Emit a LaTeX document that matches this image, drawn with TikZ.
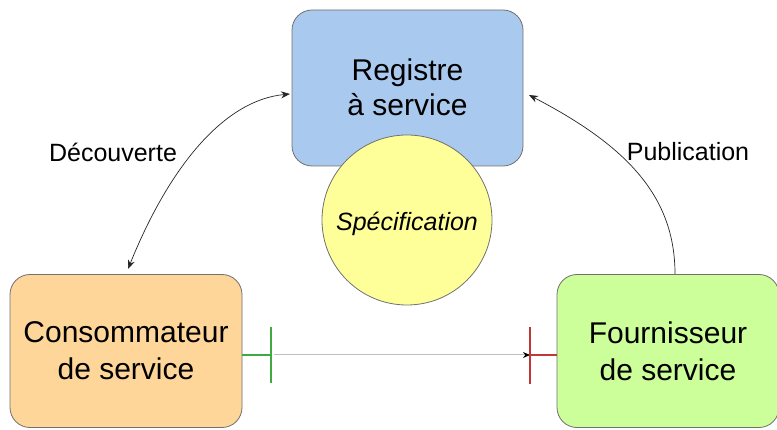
\documentclass[tikz,border=0pt]{standalone}
\usepackage{fontspec}
\setmainfont{Liberation Sans}
\usetikzlibrary{arrows.meta}
\definecolor{boxblue}{HTML}{A9CAEE}
\definecolor{boxorange}{HTML}{FED69A}
\definecolor{boxgreen}{HTML}{CCFE9A}
\definecolor{specyellow}{HTML}{FFFF99}
\definecolor{edgegray}{HTML}{707070}
\definecolor{tickgreen}{HTML}{3FAA3F}
\definecolor{tickred}{HTML}{C03838}
\begin{document}
\begin{tikzpicture}[x=1pt,y=-1pt,
  box/.style={draw=edgegray,line width=0.8pt,rounded corners=20pt,align=center,
    font=\fontsize{30}{37}\selectfont,inner sep=0pt},
  lbl/.style={font=\fontsize{25}{29}\selectfont,inner sep=0pt},
  conn/.style={black!85,line width=0.7pt,-{Stealth[length=9pt,width=7pt]}},
  tick/.style={line width=1.2pt}]
\useasboundingbox (0,0) rectangle (777,430);
\node[box,fill=boxblue,minimum width=231pt,minimum height=156pt] (reg) at (407.5,88) {};
\node[font=\fontsize{30}{35}\selectfont,align=center] (regt) at (407.5,87) {Registre\\à service};
\node[draw=edgegray,line width=0.8pt,fill=specyellow,circle,minimum size=170pt,inner sep=0pt] (spec) at (407,220) {};
\node[font=\fontsize{25}{29}\selectfont\itshape] (spect) at (407,224) {Spécification};
\node[box,fill=boxorange,minimum width=232pt,minimum height=153pt] (cons) at (126,351) {Consommateur\\de service};
\node[box,fill=boxgreen,minimum width=222pt,minimum height=153pt] (four) at (668,351) {Fournisseur\\de service};
\node[lbl] (dec) at (113,152) {Découverte};
\node[lbl] (pub) at (688,152) {Publication};
\coordinate (dtop) at (290,94);
\coordinate (dbot) at (128,269);
\draw[conn,{Stealth[length=9pt,width=7pt]}-{Stealth[length=9pt,width=7pt]}] (dbot) .. controls (170,165) and (225,100) .. (dtop);
\coordinate (pstart) at (675,274);
\coordinate (pend) at (529,95);
\draw[conn] (pstart) .. controls (675,195) and (625,145) .. (pend);
% bottom connector
\coordinate (gstart) at (cons.east |- 0,355);
\coordinate (gtick) at (271,355);
\coordinate (rtick) at (530,355);
\coordinate (rend) at (four.west |- 0,355);
\coordinate (gtop) at (271,327);
\coordinate (gbot) at (271,383);
\coordinate (rtop) at (530,327);
\coordinate (rbot) at (530,384);
\draw[tickgreen,tick] (gstart) -- (gtick);
\draw[tickgreen,tick] (gtop) -- (gbot);
\draw[black!25,line width=1pt,-{Stealth[length=7pt,width=6pt,black]}] (274,355) -- (rtick);
\draw[tickred,tick] (rtop) -- (rbot);
\draw[tickred,tick] (rtick) -- (rend);
\end{tikzpicture}
\end{document}
